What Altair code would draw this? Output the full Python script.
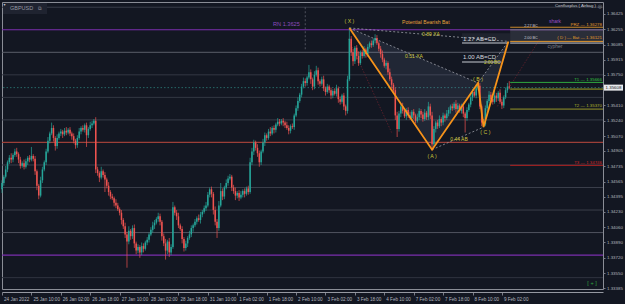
import json
import altair as alt
import pandas as pd
import numpy as np

# ---------------- data ----------------
first_open = 1.3448
closes = [
    1.3455, 1.3462, 1.3470, 1.3478, 1.3483, 1.3481, 1.3486, 1.3490, 1.3487, 1.3481,
    1.3474, 1.3477, 1.3473, 1.3479, 1.3483, 1.3481, 1.3485, 1.3482, 1.3468, 1.3452,
    1.3441, 1.3458, 1.3470, 1.3478, 1.3490, 1.3502, 1.3510, 1.3516, 1.3505, 1.3496,
    1.3505, 1.3510, 1.3512, 1.3509, 1.3513, 1.3511, 1.3514, 1.3510, 1.3507, 1.3502,
    1.3497, 1.3505, 1.3512, 1.3516, 1.3514, 1.3519, 1.3508, 1.3515, 1.3519, 1.3521,
    1.3524, 1.3470, 1.3466, 1.3461, 1.3468, 1.3464, 1.3459, 1.3452, 1.3445, 1.3440,
    1.3438, 1.3433, 1.3430, 1.3426, 1.3422, 1.3414, 1.3407, 1.3398, 1.3390, 1.3402,
    1.3396, 1.3405, 1.3388, 1.3380, 1.3384, 1.3378, 1.3385, 1.3382, 1.3389, 1.3392,
    1.3398, 1.3403, 1.3408, 1.3411, 1.3415, 1.3418, 1.3412, 1.3396, 1.3388, 1.3380,
    1.3390, 1.3378, 1.3384, 1.3428, 1.3422, 1.3418, 1.3408, 1.3404, 1.3393, 1.3383,
    1.3388, 1.3394, 1.3398, 1.3405, 1.3408, 1.3412, 1.3416, 1.3414, 1.3420, 1.3423,
    1.3427, 1.3430, 1.3442, 1.3448, 1.3443, 1.3425, 1.3412, 1.3405, 1.3430, 1.3446,
    1.3440, 1.3450, 1.3455, 1.3460, 1.3462, 1.3450, 1.3446, 1.3441, 1.3444, 1.3439,
    1.3442, 1.3446, 1.3443, 1.3449, 1.3445, 1.3478, 1.3490, 1.3500, 1.3494, 1.3488,
    1.3478, 1.3490, 1.3500, 1.3508, 1.3505, 1.3512, 1.3510, 1.3516, 1.3514, 1.3520,
    1.3523, 1.3521, 1.3524, 1.3522, 1.3519, 1.3516, 1.3513, 1.3518, 1.3517, 1.3530,
    1.3538, 1.3546, 1.3553, 1.3562, 1.3568, 1.3566, 1.3572, 1.3578, 1.3570, 1.3562,
    1.3575, 1.3580, 1.3568, 1.3565, 1.3570, 1.3560, 1.3556, 1.3562, 1.3558, 1.3552,
    1.3557, 1.3554, 1.3560, 1.3548, 1.3545, 1.3552, 1.3540, 1.3535, 1.3570, 1.3615,
    1.3600, 1.3590, 1.3605, 1.3596, 1.3588, 1.3600, 1.3596, 1.3603, 1.3598, 1.3606,
    1.3610, 1.3608, 1.3613, 1.3616, 1.3610, 1.3604, 1.3598, 1.3592, 1.3585, 1.3588,
    1.3578, 1.3570, 1.3564, 1.3558, 1.3530, 1.3515, 1.3532, 1.3540, 1.3535, 1.3529,
    1.3536, 1.3530, 1.3527, 1.3534, 1.3530, 1.3524, 1.3528, 1.3535, 1.3531, 1.3526,
    1.3533, 1.3528, 1.3540, 1.3530, 1.3498, 1.3515, 1.3522, 1.3518, 1.3526, 1.3522,
    1.3530, 1.3527, 1.3532, 1.3536, 1.3540, 1.3538, 1.3543, 1.3537, 1.3541, 1.3535,
    1.3540, 1.3532, 1.3527, 1.3536, 1.3542, 1.3550, 1.3556, 1.3552, 1.3560, 1.3563,
    1.3540, 1.3522, 1.3520, 1.3538, 1.3546, 1.3553, 1.3548, 1.3545, 1.3552, 1.3549,
    1.3555, 1.3545, 1.3541, 1.3550, 1.3558, 1.3562, 1.3561,
]
up_wick_pips = [
    3,2,4,2,3,5,2,3,4,2, 3,2,4,3,2,3,10,2,3,2,
    2,4,3,2,3,4,2,6,3,2, 4,2,3,2,3,4,2,3,2,3,
    2,3,4,2,3,2,3,2,4,3, 2,4,3,2,5,2,3,2,4,2,
    3,2,4,3,2,3,2,4,3,5, 2,3,4,2,3,2,4,3,2,3,
    2,3,4,3,2,4,3,2,3,5, 2,4,3,6,2,3,4,2,3,2,
    3,2,4,3,2,3,2,4,3,2, 3,4,3,2,3,2,4,3,5,9,
    3,2,4,3,3,2,3,4,2,3, 4,2,3,2,3,5,4,3,2,4,
    3,2,4,3,2,3,5,2,3,2, 4,3,2,3,2,4,3,2,3,2,
    3,4,2,3,4,3,2,8,3,2, 4,5,3,2,3,4,2,3,2,3,
    2,3,4,2,3,2,3,2,4,12, 3,4,2,3,5,2,3,4,2,3,
    2,3,2,4,3,2,3,4,2,3, 2,4,3,2,3,4,3,2,4,3,
    2,3,4,2,3,2,4,3,2,3, 4,2,5,3,4,3,2,3,4,2,
    3,2,4,3,2,3,2,4,3,2, 3,4,2,3,2,4,3,2,4,3,
    3,2,4,3,2,4,3,2,5,3, 2,4,3,2,3,4,6,
]
down_wick_pips = [
    4,3,2,3,2,4,3,2,3,4, 3,2,3,2,4,3,2,3,4,5,
    4,2,3,2,3,2,3,2,4,5, 3,2,3,4,2,3,2,3,4,3,
    4,3,2,3,2,3,13,3,2,3, 2,4,3,5,2,3,14,3,4,3,
    2,4,3,2,3,5,3,4,29,3, 4,3,5,4,3,6,3,4,2,3,
    3,2,3,4,2,3,4,5,3,10, 4,5,3,2,3,4,3,2,5,4,
    3,4,2,3,4,2,3,2,4,3, 2,3,2,3,4,5,4,11,3,2,
    4,3,2,3,2,4,3,5,3,4, 2,3,4,2,3,2,3,4,3,4,
    5,3,2,4,3,2,3,2,4,3, 2,3,2,4,3,2,4,3,2,3,
    2,3,2,3,2,4,3,2,5,4, 3,2,4,3,2,3,4,2,3,4,
    3,2,3,4,3,2,4,5,3,2, 4,5,3,4,3,2,3,2,4,3,
    2,3,2,3,2,3,4,3,2,4, 3,2,4,3,5,9,3,4,3,2,
    4,3,2,3,4,3,2,3,4,3, 2,3,3,4,6,3,4,3,2,4,
    3,4,2,3,4,3,2,4,3,2, 3,4,16,3,2,3,4,2,3,2,
    3,4,3,2,3,2,4,3,2,4, 3,2,4,3,2,3,2,
]

tick_labels = ["24 Jan 2022", "25 Jan 10:00", "26 Jan 02:00", "26 Jan 18:00",
               "27 Jan 10:00", "28 Jan 02:00", "28 Jan 18:00", "31 Jan 10:00",
               "1 Feb 02:00", "1 Feb 18:00", "2 Feb 10:00", "3 Feb 02:00",
               "3 Feb 18:00", "4 Feb 10:00", "7 Feb 02:00", "7 Feb 18:00",
               "8 Feb 10:00", "9 Feb 02:00"]
bars_per_tick = 16
# 1.35580 sits under the current-price tag in the reference, so it is not printed
price_ticks = [1.36425, 1.36255, 1.36085, 1.35915, 1.35750, 1.35410,
               1.35240, 1.35070, 1.34905, 1.34735, 1.34565, 1.34395, 1.34230,
               1.34060, 1.33890, 1.33720, 1.33550, 1.33385]

grid_levels = [1.3650, 1.3600, 1.3575, 1.3550, 1.3525, 1.3475, 1.3450, 1.3425, 1.3400, 1.3350]
grid_colors = ["#3a3e4a", "#5a5e6a", "#343844", "#343844", "#3a3e4a",
               "#3a3e4a", "#3a3e4a", "#3a3e4a", "#50545f", "#303440"]
purple_levels = [1.3625, 1.3375]
red_level = 1.3500
current_price = 1.35608

pattern_names = ["( X )", "( A )", "( B )", "( C )", "D"]
pattern_bar = [189, 234, 259, 262, 275.5]
pattern_price = [1.3627, 1.3492, 1.3566, 1.3517, 1.36121]

# faint alternative-projection guides (bar, price pairs)
guide_bar_start = [188.5, 269.5]
guide_price_start = [1.3615, 1.3540]
guide_bar_end = [212.0, 293.0]
guide_price_end = [1.3511, 1.36160]

zone_names = ["PRZ", "BC 2.27", "D Bat", "BC 2.00", "T1", "entry", "T2", "T3"]
zone_prices = [1.36278, 1.36250, 1.36121, 1.36102, 1.35666, 1.35592, 1.35370, 1.34746]
zone_colors = ["#c98a2a", "#6e717a", "#e3982c", "#b9bcc4", "#2fa83f", "#a3a324", "#96962a", "#b01f1f"]

abcd_names = ["1.27 AB=CD", "1.00 AB=CD"]
abcd_prices = [1.36103, 1.35892]

# ---------------- frames ----------------
n = len(closes)
opens = [first_open] + closes[:-1]
cdf = pd.DataFrame({"i": np.arange(n), "open": opens, "close": closes})
cdf["high"] = np.maximum(cdf["open"], cdf["close"]) + np.array(up_wick_pips) / 10000
cdf["low"] = np.minimum(cdf["open"], cdf["close"]) - np.array(down_wick_pips) / 10000

X_MAX = 327
xs = alt.Scale(domain=[0, X_MAX], nice=False, zero=False)
ys = alt.Scale(domain=[1.33374, 1.36558], nice=False, zero=False)
px_per_bar = 601 / X_MAX
price_per_px = (1.36558 - 1.33374) / 287

label_expr = json.dumps(tick_labels) + "[round(datum.value/%d)]" % bars_per_tick
x_axis = alt.Axis(values=list(range(0, bars_per_tick * len(tick_labels), bars_per_tick)),
                  labelExpr=label_expr, labelAlign="left", labelFontSize=4.6,
                  labelFont="Liberation Sans", labelColor="#b2b5be", labelOffset=1.5,
                  tickSize=3, tickColor="#787b86", domainColor="#9598a1",
                  labelPadding=1, labelOverlap=False, labelFlush=False, grid=False,
                  offset=3, title=None)
y_axis = alt.Axis(orient="right", values=price_ticks, format=".5f", labelFontSize=4.4,
                  labelFont="Liberation Sans", labelColor="#b2b5be", tickSize=2,
                  tickColor="#787b86", domain=False, grid=False, labelPadding=1.5,
                  labelOverlap=False, labelFlush=False, title=None)

def X(field="i"):
    return alt.X(f"{field}:Q", scale=xs, axis=x_axis, title=None)

def Y(field="price"):
    return alt.Y(f"{field}:Q", scale=ys, axis=y_axis, title=None)

layers = []

# grid / round number lines
gdf = pd.DataFrame({"price": grid_levels, "color": grid_colors})
layers.append(alt.Chart(gdf).mark_rule(strokeWidth=1).encode(
    y=Y(), color=alt.Color("color:N", scale=None)))
layers.append(alt.Chart(pd.DataFrame({"price": purple_levels})).mark_rule(
    color="#7b2fae", strokeWidth=1.2).encode(y=Y()))
layers.append(alt.Chart(pd.DataFrame({"price": [red_level]})).mark_rule(
    color="#9c3f38", strokeWidth=1.2).encode(y=Y()))
layers.append(alt.Chart(pd.DataFrame({"price": [current_price]})).mark_rule(
    color="#2c7d7a", strokeWidth=0.8, strokeDash=[1.5, 2]).encode(y=Y()))
# session separator
layers.append(alt.Chart(pd.DataFrame({"i": [165], "p1": [1.3650], "p2": [1.3602]})).mark_rule(
    color="#5d606b", strokeWidth=0.8, strokeDash=[2, 2]).encode(x=X(), y=Y("p1"), y2="p2:Q"))

# projection zone box (BC range)
layers.append(alt.Chart(pd.DataFrame({"i1": [276.5], "i2": [X_MAX], "p1": [1.36100], "p2": [1.36250]})).mark_rect(
    color="#c8ccd8", opacity=0.13).encode(x=X("i1"), x2="i2:Q", y=Y("p1"), y2="p2:Q"))
# AB=CD box
layers.append(alt.Chart(pd.DataFrame({"i1": [250.3], "i2": [276.5], "p1": [abcd_prices[0]], "p2": [1.36210]})).mark_rect(
    color="#c8ccd8", opacity=0.07).encode(x=X("i1"), x2="i2:Q", y=Y("p1"), y2="p2:Q"))

# triangle fills XAB and BCD
def interp(b0, p0, b1, p1, b):
    return p0 + (p1 - p0) * (b - b0) / (b1 - b0)
xb, xa, bb, cb, db = pattern_bar
px_, pa, pb, pc, pd_ = pattern_price
tri = pd.DataFrame({
    "tri": ["XAB"] * 3 + ["BCD"] * 3,
    "i": [xb, xa, bb, bb, cb, db],
    "lo": [px_, pa, pb, pb, pc, pd_],
    "hi": [px_, interp(xb, px_, bb, pb, xa), pb, pb, interp(bb, pb, db, pd_, cb), pd_],
})
layers.append(alt.Chart(tri).mark_area(color="#8c9bc4", opacity=0.12, interpolate="linear").encode(
    x=X(), y=Y("lo"), y2="hi:Q", detail="tri:N"))

# faint dark-red guides
gd = pd.DataFrame({"i1": guide_bar_start, "p1": guide_price_start,
                   "i2": guide_bar_end, "p2": guide_price_end})
layers.append(alt.Chart(gd).mark_rule(color="#7a2430", strokeWidth=0.8, strokeDash=[1.5, 1.5], opacity=0.8).encode(
    x=X("i1"), y=Y("p1"), x2="i2:Q", y2="p2:Q"))

# candles
candle_color = alt.condition(alt.datum.close >= alt.datum.open, alt.value("#26a69a"), alt.value("#ef5350"))
layers.append(alt.Chart(cdf).mark_rule(strokeWidth=0.7).encode(
    x=X(), y=Y("low"), y2="high:Q", color=candle_color))
layers.append(alt.Chart(cdf).mark_rule(strokeWidth=1.5).encode(
    x=X(), y=Y("open"), y2="close:Q", color=candle_color))

# target / zone lines to the right
zdf = pd.DataFrame({"name": zone_names, "price": zone_prices, "color": zone_colors,
                    "i1": 276.5, "i2": X_MAX})
layers.append(alt.Chart(zdf).mark_rule(strokeWidth=1).encode(
    x=X("i1"), x2="i2:Q", y=Y(), color=alt.Color("color:N", scale=None)))

# AB=CD underlines
udf = pd.DataFrame({"price": abcd_prices, "i1": [250.3, 250.3], "i2": [275.5, 271.5]})
layers.append(alt.Chart(udf).mark_rule(strokeWidth=1.6, color="#8d9099").encode(
    x=X("i1"), x2="i2:Q", y=Y()))

# dotted pattern legs
segs = [("XB", 0, 2), ("XD", 0, 4), ("AC", 1, 3), ("BD", 2, 4)]
rows = []
for s, a, b in segs:
    rows.append({"seg": s, "i": pattern_bar[a], "price": pattern_price[a]})
    rows.append({"seg": s, "i": pattern_bar[b], "price": pattern_price[b]})
layers.append(alt.Chart(pd.DataFrame(rows)).mark_line(
    color="#9a9da6", strokeWidth=0.8, strokeDash=[2, 2]).encode(x=X(), y=Y(), detail="seg:N"))

# main orange legs
pdf = pd.DataFrame({"k": range(5), "i": pattern_bar, "price": pattern_price})
layers.append(alt.Chart(pdf).mark_line(color="#f7931a", strokeWidth=1.8).encode(
    x=X(), y=Y(), order="k:Q"))

# ---------------- texts ----------------
def to_price(py):
    return 1.36558 - (py - 2) * price_per_px

def to_bar(pxx):
    return (pxx - 2) / px_per_bar

yel = "#cfc73a"
center_txt = pd.DataFrame([
    {"text": "( X )", "i": xb, "price": to_price(21), "color": yel, "size": 5.2},
    {"text": "( A )", "i": xa, "price": to_price(155.5), "color": yel, "size": 5.2},
    {"text": "( B )", "i": bb, "price": to_price(79), "color": yel, "size": 5.2},
    {"text": "( C )", "i": cb + 1, "price": to_price(132), "color": yel, "size": 5.2},
    {"text": "0.89 XA", "i": to_bar(431), "price": to_price(34), "color": yel, "size": 5},
    {"text": "0.51 XA", "i": to_bar(414), "price": to_price(56), "color": yel, "size": 5},
    {"text": "0.44 AB", "i": to_bar(459), "price": to_price(139), "color": yel, "size": 5},
    {"text": "2.00 BC", "i": to_bar(492), "price": to_price(62.5), "color": yel, "size": 4.5},
    {"text": "shark", "i": to_bar(555), "price": to_price(21), "color": "#9b4fc6", "size": 5},
    {"text": "cypher", "i": to_bar(555), "price": to_price(46), "color": "#7c7f88", "size": 5},
    {"text": "2.27 BC", "i": to_bar(531), "price": to_price(26), "color": "#c9ccd4", "size": 3.8},
    {"text": "2.00 BC", "i": to_bar(531), "price": to_price(38), "color": "#c9ccd4", "size": 3.8},
])
left_txt = pd.DataFrame([
    {"text": "RN 1.3625", "i": to_bar(273), "price": to_price(24), "color": "#8d4bbf", "size": 5.6},
    {"text": "Potential Bearish Bat", "i": to_bar(402), "price": to_price(22), "color": "#e8a33a", "size": 5.1},
    {"text": abcd_names[0], "i": to_bar(463), "price": to_price(39), "color": "#d6d8de", "size": 6},
    {"text": abcd_names[1], "i": to_bar(463), "price": to_price(57), "color": "#d6d8de", "size": 6},
])
right_txt = pd.DataFrame([
    {"text": "PRZ — 1.36278", "price": to_price(24.5), "color": "#e39b2c"},
    {"text": "( D ) — Bat — 1.36121", "price": to_price(38), "color": "#e39b2c"},
    {"text": "T1 — 1.35666", "price": to_price(80), "color": "#34c040"},
    {"text": "T2 — 1.35370", "price": to_price(106), "color": "#b0b02a"},
    {"text": "T3 — 1.34746", "price": to_price(163), "color": "#d32828"},
])
right_txt["i"] = to_bar(602)
right_txt["size"] = 4.4

def txt(df, align):
    return alt.Chart(df).mark_text(align=align, baseline="middle", font="Liberation Sans").encode(
        x=X(), y=Y(), text="text:N", color=alt.Color("color:N", scale=None),
        size=alt.Size("size:Q", scale=None))

layers += [txt(center_txt, "center"), txt(left_txt, "left"), txt(right_txt, "right")]

one = pd.DataFrame({"a": [0]})
# symbol box top-left
layers.append(alt.Chart(one).mark_rect(color="#1f2330").encode(
    x=alt.value(1), x2=alt.value(45), y=alt.value(1), y2=alt.value(12)))
layers.append(alt.Chart(one).mark_text(text="GBPUSD", align="left", baseline="middle",
    font="Liberation Sans", fontSize=5.5, color="#9598a1").encode(x=alt.value(8), y=alt.value(6)))
layers.append(alt.Chart(one).mark_text(text="⧉", align="center", baseline="middle",
    font="DejaVu Sans", fontSize=5, color="#9598a1").encode(x=alt.value(37.5), y=alt.value(6)))
layers.append(alt.Chart(one).mark_text(text="▾", align="center", baseline="middle",
    font="DejaVu Sans", fontSize=4, color="#c0c3cc").encode(x=alt.value(2.5), y=alt.value(2.5)))
layers.append(alt.Chart(one).mark_text(text="Confluxplus ( Airbag )", align="right", baseline="middle",
    font="Liberation Sans", fontSize=4.3, color="#c9ccd4").encode(x=alt.value(594), y=alt.value(4)))
layers.append(alt.Chart(one).mark_text(text="◎", align="center", baseline="middle",
    font="DejaVu Sans", fontSize=5, color="#9598a1").encode(x=alt.value(598), y=alt.value(4)))
layers.append(alt.Chart(one).mark_text(text="[  +  ]", align="center", baseline="middle",
    font="Liberation Sans", fontSize=5.5, color="#2fa83f").encode(x=alt.value(590), y=alt.value(281)))

# current price tag on the axis
tag = pd.DataFrame({"i1": [to_bar(604)], "i2": [to_bar(623)],
                    "p1": [current_price - 3 * price_per_px], "p2": [current_price + 3 * price_per_px],
                    "price": [current_price], "i": [to_bar(613.5)],
                    "text": [f"{current_price:.5f}"]})
layers.append(alt.Chart(tag).mark_rect(color="#e8e9ec").encode(
    x=X("i1"), x2="i2:Q", y=Y("p1"), y2="p2:Q"))
layers.append(alt.Chart(tag).mark_text(align="center", baseline="middle", font="Liberation Sans",
    fontSize=4.4, color="#131722").encode(x=X(), y=Y(), text="text:N"))

chart = alt.layer(*layers).properties(
    width=601, height=287,
    autosize=alt.AutoSizeParams(type="none"),
    padding={"left": 2, "top": 2, "right": 22, "bottom": 15},
    background="#131722",
).configure_view(stroke="#8a8d96", strokeWidth=1, fill="#131722")

chart.save("out.html", embed_options={"renderer": "svg", "actions": False})
